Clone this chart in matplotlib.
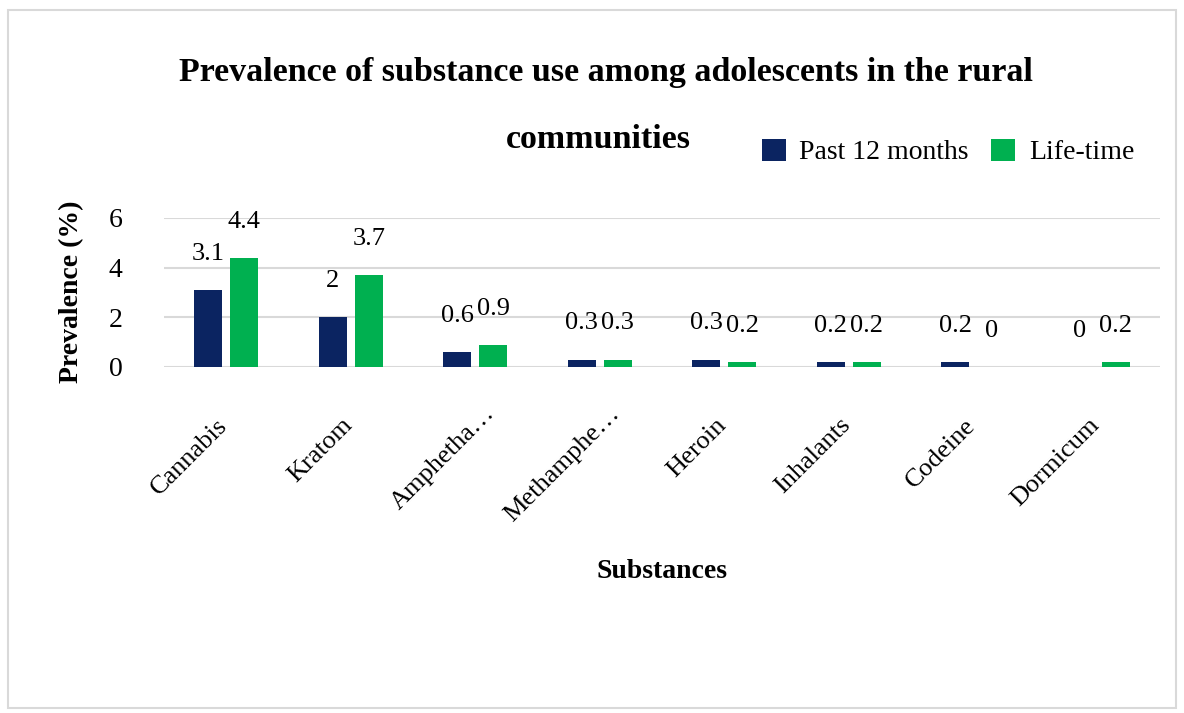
import numpy as np
import matplotlib
matplotlib.use("Agg")
import matplotlib.pyplot as plt
import matplotlib.transforms as mtransforms
from matplotlib.patches import Rectangle

# --- data ---
substances = ["Cannabis", "Kratom", "Amphetha\u2026", "Methamphe\u2026",
              "Heroin", "Inhalants", "Codeine", "Dormicum"]
past_12_months = [3.1, 2, 0.6, 0.3, 0.3, 0.2, 0.2, 0]
life_time = [4.4, 3.7, 0.9, 0.3, 0.2, 0.2, 0, 0.2]
series_names = ["Past 12 months", "Life-time"]
y_ticks = [0, 2, 4, 6]

NAVY = "#0b2461"
GREEN = "#00b050"
GRID = "#d9d9d9"

plt.rcParams["font.family"] = ["Liberation Serif", "DejaVu Serif"]

fig = plt.figure(figsize=(11.84, 7.13), dpi=100)
ax = fig.add_axes([164 / 1184, 1 - 367 / 713, (1160 - 164) / 1184, (367 - 218) / 713])

x = np.arange(len(substances))
w = 0.225
off = 0.145
b1 = ax.bar(x - off, past_12_months, w, color=NAVY, label=series_names[0], zorder=3)
b2 = ax.bar(x + off, life_time, w, color=GREEN, label=series_names[1], zorder=3)

for bars, vals in ((b1, past_12_months), (b2, life_time)):
    for rect, v in zip(bars, vals):
        ax.annotate(f"{v:g}", (rect.get_x() + rect.get_width() / 2, v),
                    xytext=(0, 26), textcoords="offset points",
                    ha="center", va="center", fontsize=19)

ax.set_xlim(-0.5, len(substances) - 0.5)
ax.set_ylim(0, 6)
ax.set_yticks(y_ticks)
ax.set_xticks(x)
ax.set_xticklabels(substances, rotation=45, ha="right", fontsize=19)
ax.tick_params(axis="x", length=0, pad=34)
ax.tick_params(axis="y", length=0, pad=30, labelsize=20)
ax.yaxis.grid(True, color=GRID, linewidth=1.5, zorder=0)
for s in ax.spines.values():
    s.set_visible(False)

# Excel nudges the labels a bit; truncated ones sit further up and right
for lbl in ax.get_xticklabels():
    dx, dy = (6, 0)
    if lbl.get_text().endswith("\u2026"):
        dx, dy = (24, 12)
    lbl.set_transform(lbl.get_transform() +
                      mtransforms.ScaledTranslation(dx / 100, dy / 100, fig.dpi_scale_trans))

fig.text(72 / 1184, 1 - 292 / 713, "Prevalence (%)", rotation=90,
         ha="center", va="center", fontsize=20, fontweight="bold")
fig.text(662 / 1184, 1 - 572 / 713, "Substances",
         ha="center", va="center", fontsize=20, fontweight="bold")

fig.text(606 / 1184, 1 - 72 / 713,
         "Prevalence of substance use among adolescents in the rural",
         ha="center", va="center", fontsize=24.5, fontweight="bold")
fig.text(598 / 1184, 1 - 140 / 713, "communities",
         ha="center", va="center", fontsize=24.5, fontweight="bold")

fig.legend(handles=[b1, b2], loc="center left",
           bbox_to_anchor=(762 / 1184, 1 - 152 / 713), ncol=2, frameon=False,
           fontsize=20, handlelength=0.85, handleheight=0.85, columnspacing=0.8,
           handletextpad=0.5, borderaxespad=0, borderpad=0)

# light chart-area border
fig.patches.append(Rectangle((8 / 1184, 1 - 708 / 713), 1168 / 1184, 698 / 713,
                             transform=fig.transFigure, fill=False,
                             edgecolor="#d9d9d9", linewidth=1.5))

fig.savefig("out.png", dpi=100, facecolor="white")
